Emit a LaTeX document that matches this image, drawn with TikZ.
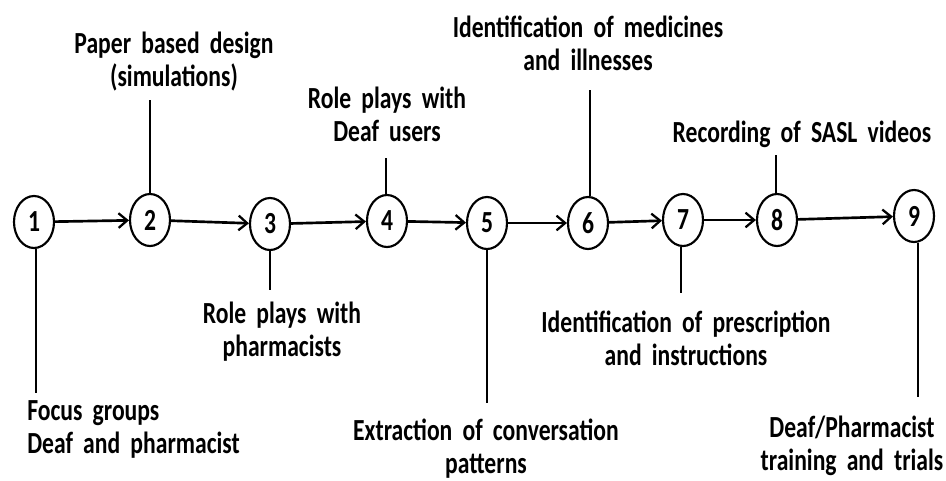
\documentclass[tikz,border=0pt]{standalone}
\usepackage{fontspec}
\setmainfont{Carlito}[FakeStretch=0.77]
\usetikzlibrary{arrows.meta,shapes.geometric}
% label type: bold, slightly tightened word spaces
\newcommand\stagelabelfont{\bfseries\fontsize{23pt}{24.75pt}\selectfont
  \spaceskip=0.8\fontdimen2\font plus 0.1\fontdimen2\font\relax}
\tikzset{
  stage/.style={draw, ellipse, line width=1.6pt, minimum width=30pt, minimum height=39pt,
    inner sep=0pt, font=\bfseries\fontsize{23pt}{24.75pt}\selectfont},
  flow/.style={line width=2pt, -{Straight Barb[length=6.5pt,width=11pt,line width=1.7pt]}},
  stem/.style={line width=2pt},
  lbl/.style={inner sep=0pt, text width=260pt, align=center, anchor=base,
    font=\stagelabelfont},
  lbll/.style={lbl, align=left, anchor=base west}
}
\begin{document}
\begin{tikzpicture}[x=0.75pt,y=-0.75pt]
\useasboundingbox (0,0) rectangle (946,480);

% process stages
\node[stage] (c1) at (34,222) {1};
\node[stage] (c2) at (150,220) {2};
\node[stage] (c3) at (270,224) {3};
\node[stage] (c4) at (387,221) {4};
\node[stage] (c5) at (487,223) {5};
\node[stage] (c6) at (588,223) {6};
\node[stage] (c7) at (683,220) {7};
\node[stage] (c8) at (777,220) {8};
\node[stage] (c9) at (914,216) {9};

% flow between stages
\draw[flow] (c1) -- (c2);
\draw[flow] (c2) -- (c3);
\draw[flow] (c3) -- (c4);
\draw[flow] (c4) -- (c5);
\draw[flow] (c5) -- (c6);
\draw[flow] (c6) -- (c7);
\draw[flow] (c7) -- (c8);
\draw[flow] (c8) -- (c9);

% ends of the label stems
\coordinate (e1) at (36,393);
\coordinate (e2) at (150,100);
\coordinate (e3) at (270,290);
\coordinate (e4) at (386,158);
\coordinate (e5) at (487,403);
\coordinate (e6) at (590,90);
\coordinate (e7) at (681,293);
\coordinate (e8) at (776,155);
\coordinate (e9) at (918,397);

\draw[stem] (c1.south -| e1) -- (e1);
\draw[stem] (c2.north) -- (e2);
\draw[stem] (c3.south) -- (e3);
\draw[stem] (c4.north -| e4) -- (e4);
\draw[stem] (c5.south) -- (e5);
\draw[stem] (c6.north -| e6) -- (e6);
\draw[stem] (c7.south -| e7) -- (e7);
\draw[stem] (c8.north -| e8) -- (e8);
\draw[stem] (c9.south -| e9) -- (e9);

% stage descriptions
\node[lbll] (t1) at (27,420) {Focus groups\\Deaf and pharmacist};
\node[lbl] (t2) at (174,53) {Paper based design\\(simulations)};
\node[lbl] (t3) at (282,323) {Role plays with\\pharmacists};
\node[lbl] (t4) at (387,108) {Role plays with\\Deaf users};
\node[lbl] (t5) at (486,440) {Extraction of conversation\\patterns};
\node[lbl] (t6) at (588,37) {Identification of medicines\\and illnesses};
\node[lbl] (t7) at (686,332) {Identification of prescription\\and instructions};
\node[lbl] (t8) at (802,142) {Recording of SASL videos};
\node[lbl] (t9) at (852,437) {Deaf/Pharmacist\\training and trials};
\end{tikzpicture}
\end{document}
